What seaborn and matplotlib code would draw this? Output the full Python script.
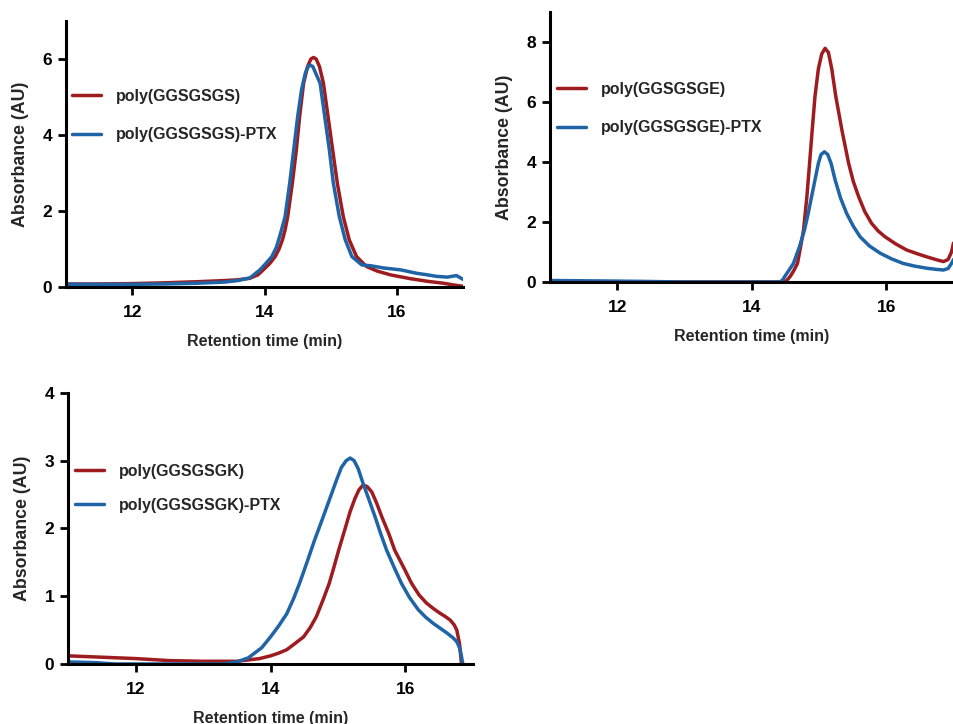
import numpy as np
import pandas as pd
import matplotlib
matplotlib.use("Agg")
import matplotlib.pyplot as plt
import seaborn as sns

# ---------------- data ----------------
# Panel A: poly(GGSGSGS)
a_red_x = [11.0, 11.5, 12.0, 12.5, 13.0, 13.4, 13.6, 13.78, 13.9, 13.98, 14.08, 14.16, 14.22,
           14.27, 14.31, 14.35, 14.42, 14.48, 14.53, 14.59, 14.65, 14.7, 14.74, 14.78, 14.83,
           14.89, 14.96, 15.03, 15.1, 15.19, 15.28, 15.39, 15.54, 15.7, 15.9, 16.2, 16.46,
           16.7, 16.87, 17.0]
a_red_y = [0.08, 0.08, 0.09, 0.11, 0.14, 0.17, 0.19, 0.23, 0.32, 0.45, 0.62, 0.80, 1.0,
           1.24, 1.5, 1.85, 2.73, 3.6, 4.48, 5.36, 5.8, 6.0, 6.04, 6.0, 5.8,
           5.36, 4.48, 3.6, 2.73, 1.85, 1.24, 0.80, 0.54, 0.42, 0.32, 0.22, 0.15,
           0.1, 0.05, 0.02]
a_blue_x = [11.0, 11.5, 12.0, 12.5, 13.0, 13.4, 13.6, 13.78, 13.93, 14.02, 14.11, 14.18, 14.24,
            14.31, 14.38, 14.44, 14.5, 14.56, 14.62, 14.66, 14.69, 14.73, 14.78, 14.84, 14.91,
            14.98, 15.04, 15.13, 15.22, 15.32, 15.47, 15.6, 15.8, 16.06, 16.3, 16.46, 16.6,
            16.76, 16.9, 17.0]
a_blue_y = [0.07, 0.07, 0.07, 0.08, 0.1, 0.13, 0.17, 0.24, 0.45, 0.62, 0.80, 1.05, 1.4,
            1.85, 2.73, 3.6, 4.48, 5.2, 5.65, 5.8, 5.84, 5.8, 5.6, 5.36, 4.48,
            3.6, 2.73, 1.85, 1.24, 0.80, 0.58, 0.56, 0.5, 0.45, 0.36, 0.32, 0.28,
            0.26, 0.3, 0.2]

# Panel B: poly(GGSGSGE)
b_red_x = [11.0, 12.0, 13.0, 14.0, 14.47, 14.52, 14.57, 14.62, 14.68, 14.72, 14.77, 14.82,
           14.86, 14.9, 14.94, 14.99, 15.04, 15.09, 15.14, 15.19, 15.25, 15.34, 15.44, 15.51,
           15.59, 15.68, 15.78, 15.88, 15.98, 16.14, 16.3, 16.45, 16.6, 16.75, 16.85, 16.92,
           16.97, 17.0]
b_red_y = [0.0, 0.0, 0.0, 0.0, 0.0, 0.05, 0.18, 0.36, 0.62, 1.1, 1.73, 2.85,
           3.96, 5.1, 6.18, 7.1, 7.6, 7.79, 7.65, 7.1, 6.18, 5.07, 3.96, 3.35,
           2.84, 2.35, 1.96, 1.7, 1.51, 1.27, 1.07, 0.95, 0.84, 0.74, 0.68, 0.75,
           1.0, 1.3]
b_blue_x = [11.0, 11.5, 12.0, 12.4, 12.68, 13.0, 14.0, 14.42, 14.46, 14.49, 14.55, 14.62,
            14.71, 14.78, 14.84, 14.89, 14.94, 14.99, 15.03, 15.08, 15.13, 15.18, 15.24, 15.32,
            15.41, 15.51, 15.61, 15.75, 15.91, 16.08, 16.25, 16.42, 16.6, 16.75, 16.85, 16.92,
            16.97, 17.0]
b_blue_y = [0.05, 0.04, 0.03, 0.02, 0.01, 0.0, 0.0, 0.0, 0.07, 0.18, 0.38, 0.62,
            1.18, 1.7, 2.29, 2.85, 3.4, 3.95, 4.25, 4.34, 4.25, 3.95, 3.4, 2.8,
            2.29, 1.86, 1.51, 1.2, 0.96, 0.77, 0.62, 0.53, 0.46, 0.42, 0.4, 0.45,
            0.62, 0.75]

# Panel C: poly(GGSGSGK)
c_red_x = [11.0, 11.5, 12.0, 12.5, 13.0, 13.5, 13.84, 14.0, 14.12, 14.24, 14.36, 14.49,
           14.59, 14.68, 14.78, 14.87, 14.94, 15.01, 15.1, 15.18, 15.25, 15.31, 15.37, 15.43,
           15.5, 15.57, 15.65, 15.75, 15.84, 15.97, 16.09, 16.2, 16.31, 16.41, 16.51, 16.59,
           16.66, 16.72, 16.76, 16.8, 16.83]
c_red_y = [0.12, 0.1, 0.08, 0.05, 0.04, 0.04, 0.08, 0.12, 0.16, 0.21, 0.3, 0.4,
           0.54, 0.7, 0.95, 1.19, 1.43, 1.68, 1.98, 2.25, 2.44, 2.57, 2.64, 2.62,
           2.54, 2.38, 2.17, 1.93, 1.68, 1.43, 1.19, 1.02, 0.90, 0.82, 0.75, 0.7,
           0.65, 0.58, 0.5, 0.3, 0.0]
c_blue_x = [11.0, 11.4, 11.7, 12.5, 13.3, 13.5, 13.67, 13.87, 14.0, 14.12, 14.24, 14.34,
            14.43, 14.54, 14.65, 14.78, 14.9, 14.98, 15.05, 15.12, 15.18, 15.24, 15.3, 15.37,
            15.45, 15.55, 15.63, 15.72, 15.83, 15.94, 16.06, 16.19, 16.3, 16.41, 16.51, 16.61,
            16.7, 16.76, 16.8, 16.82, 16.85]
c_blue_y = [0.03, 0.02, 0.0, 0.0, 0.0, 0.03, 0.09, 0.24, 0.4, 0.56, 0.74, 0.96,
            1.19, 1.5, 1.82, 2.17, 2.5, 2.72, 2.9, 3.0, 3.04, 3.0, 2.88, 2.67,
            2.45, 2.17, 1.93, 1.68, 1.43, 1.19, 0.98, 0.80, 0.69, 0.60, 0.53, 0.46,
            0.39, 0.33, 0.24, 0.16, 0.0]

x_ticks = [12, 14, 16]
xlabel = "Retention time (min)"
ylabel = "Absorbance (AU)"

RED = "#9e1c1f"
BLUE = "#1f64a6"

sns.set_theme(style="ticks")
plt.rcParams["font.family"] = ["Liberation Sans", "DejaVu Sans"]
plt.rcParams["font.weight"] = "bold"
plt.rcParams["axes.labelweight"] = "bold"

fig = plt.figure(figsize=(9.54, 7.24), dpi=100)

panels = [
    dict(rect=[0.0692, 0.6036, 0.4162, 0.3674], name="poly(GGSGSGS)",
         rx=a_red_x, ry=a_red_y, bx=a_blue_x, by=a_blue_y,
         ylim=(0, 7), yticks=[0, 2, 4, 6], leg=(0.015, 0.7445), lsp=1.46),
    dict(rect=[0.5765, 0.6105, 0.4230, 0.3729], name="poly(GGSGSGE)",
         rx=b_red_x, ry=b_red_y, bx=b_blue_x, by=b_blue_y,
         ylim=(0, 9), yticks=[0, 2, 4, 6, 8], leg=(0.017, 0.7406), lsp=1.46),
    dict(rect=[0.0713, 0.0829, 0.4245, 0.3743], name="poly(GGSGSGK)",
         rx=c_red_x, ry=c_red_y, bx=c_blue_x, by=c_blue_y,
         ylim=(0, 4), yticks=[0, 1, 2, 3, 4], leg=(0.017, 0.738), lsp=1.18),
]

for p in panels:
    ax = fig.add_axes(p["rect"])
    df = pd.concat([
        pd.DataFrame({"x": p["rx"], "y": p["ry"], "s": p["name"]}),
        pd.DataFrame({"x": p["bx"], "y": p["by"], "s": p["name"] + "-PTX"}),
    ], ignore_index=True)
    sns.lineplot(data=df, x="x", y="y", hue="s", sort=False, estimator=None,
                 palette={p["name"]: RED, p["name"] + "-PTX": BLUE},
                 linewidth=2.5, ax=ax)
    for ln in ax.get_lines():
        ln.set_solid_joinstyle("round")
        ln.set_solid_capstyle("round")
    ax.set_xlim(11, 17)
    ax.set_ylim(*p["ylim"])
    ax.set_xticks(x_ticks)
    ax.set_yticks(p["yticks"])
    sns.despine(ax=ax)
    for side in ["left", "bottom"]:
        ax.spines[side].set_linewidth(2.2)
        ax.spines[side].set_color("black")
        ax.spines[side].set_zorder(3)
    ax.tick_params(axis="both", direction="out", length=6, width=2.0, color="black",
                   labelsize=12.5, labelcolor="black")
    ax.tick_params(axis="x", pad=7)
    ax.tick_params(axis="y", pad=4)
    for lab in ax.get_xticklabels() + ax.get_yticklabels():
        lab.set_fontweight("bold")
    ax.set_xlabel(xlabel, fontsize=11.5, fontweight="bold", labelpad=10)
    ax.set_ylabel(ylabel, fontsize=12.8, fontweight="bold", labelpad=9.5)
    ax.patch.set_alpha(0)
    ax.legend(loc="upper left", bbox_to_anchor=p["leg"], frameon=False,
              prop={"weight": "bold", "size": 11.5}, handlelength=1.8,
              handletextpad=0.95, labelspacing=p["lsp"], borderpad=0,
              borderaxespad=0, title=None)
    for h in ax.get_legend().get_lines():
        h.set_linewidth(2.5)

fig.savefig("out.png", dpi=100)
